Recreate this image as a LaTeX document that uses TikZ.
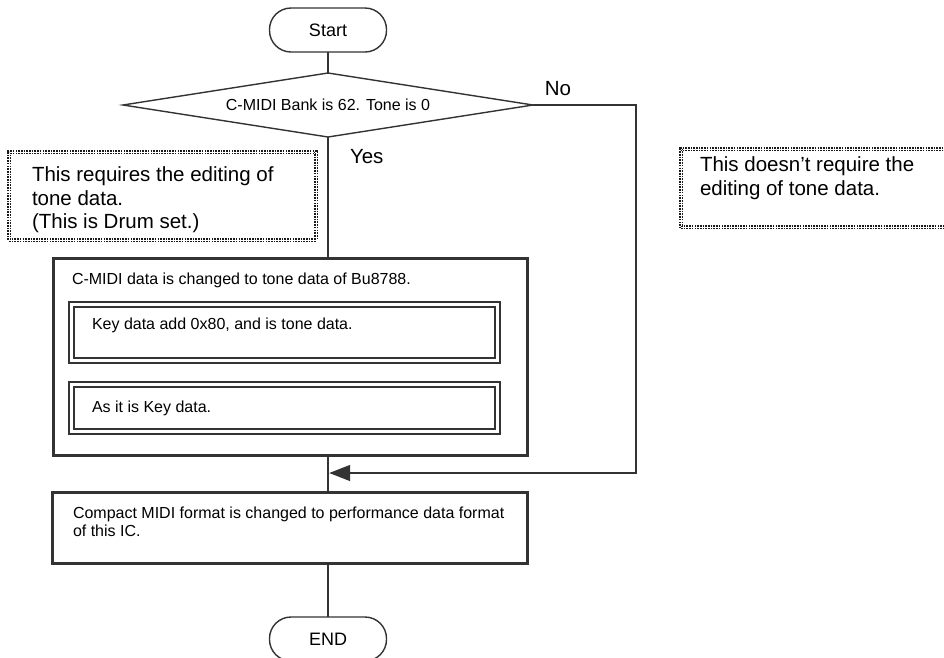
\documentclass[tikz,border=0pt]{standalone}
\usepackage{fontspec}
\setmainfont{Liberation Sans}
\usetikzlibrary{shapes.geometric,arrows.meta}
\definecolor{lc}{HTML}{333333}
\begin{document}
\begin{tikzpicture}[x=1pt,y=-1pt,
  every node/.style={inner sep=0pt, outer sep=0pt},
  term/.style={draw=lc, line width=1.4pt, rounded corners=21.5pt, minimum width=117pt, minimum height=44pt, font=\fontsize{18}{21}\selectfont},
  decide/.style={draw=lc, line width=1.4pt, diamond, aspect=6.4, minimum width=410pt, minimum height=64pt, font=\fontsize{16}{19}\selectfont},
  procbox/.style={draw=lc, line width=3pt},
  subbox/.style={draw=lc, line width=2pt, double, double distance=3pt},
  notebox/.style={draw=black!90, line width=1.6pt, double, double distance=0.6pt, dash pattern=on 1.6pt off 1.1pt},
  small/.style={font=\fontsize{16}{18}\selectfont, anchor=north west, align=left},
  big/.style={font=\fontsize{20.5}{23.5}\selectfont, align=left},
  conn/.style={draw=lc, line width=1.4pt}
]
\useasboundingbox (0,0) rectangle (944,657);

% terminals and decision
\node[term] (start) at (328,30) {Start};
\node[decide] (dia) at (328,105) {C-MIDI Bank is 62. Tone is 0};
\node[font=\fontsize{20.5}{23.5}\selectfont, anchor=base] (nolab) at (558,95) {No};
\node[font=\fontsize{20.5}{23.5}\selectfont, anchor=base west] (yeslab) at (350,163) {Yes};

% notes
\node[notebox, minimum width=307pt, minimum height=88pt] (note1) at (162.5,196) {};
\node[big, anchor=north west] (note1t) at (32,167) {This requires the editing of\\tone data.\\(This is Drum set.)};
\node[notebox, minimum width=269pt, minimum height=78pt] (note2) at (815.5,188) {};
\node[big, anchor=north west] (note2t) at (700,157) {This doesn’t require the\\editing of tone data.};

% main process box
\node[procbox, minimum width=474.5pt, minimum height=197pt] (main) at (290.25,356.5) {};
\node[small] (maint) at (72,273.3) {C-MIDI data is changed to tone data of Bu8788.};
\node[subbox, minimum width=426.5pt, minimum height=56pt] (sub1) at (284.25,332) {};
\node[small] (sub1t) at (92,318.3) {Key data add 0x80, and is tone data.};
\node[subbox, minimum width=426.5pt, minimum height=47.5pt] (sub2) at (284.25,407.75) {};
\node[small] (sub2t) at (92,401.3) {As it is Key data.};

% bottom process box
\node[procbox, minimum width=475.5pt, minimum height=71pt] (bot) at (289.75,527.5) {};
\node[small] (bott) at (73,507.3) {Compact MIDI format is changed to performance data format\\of this IC.};

\node[term] (end) at (328,639) {END};

% connectors
\coordinate (join) at (329.2,473);
\coordinate (nocorner) at (636,473);
\draw[conn] (start.south) -- (dia.north);
\draw[conn] (dia.south) -- (dia.south |- main.north);
\draw[conn] (dia.south |- main.south) -- (dia.south |- bot.north);
\draw[conn] (dia.south |- bot.south) -- (end.north);
\draw[conn, -{Triangle[length=21pt,width=16pt]}] (dia.east) -| (nocorner) -- (join);
\end{tikzpicture}
\end{document}
